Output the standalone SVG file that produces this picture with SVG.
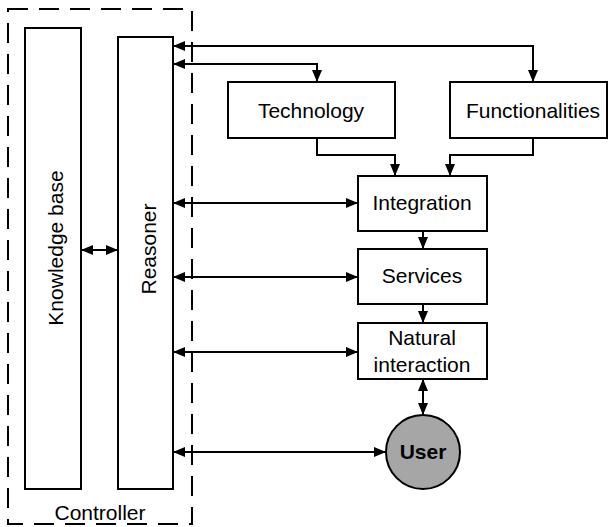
<svg xmlns="http://www.w3.org/2000/svg" width="609" height="527" viewBox="0 0 609 527">
<style>
.box{fill:#fff;stroke:#000;stroke-width:2}
.ln{fill:none;stroke:#000;stroke-width:2}
.t{font-family:"Liberation Sans",Arial,sans-serif;font-size:21px;fill:#000;text-anchor:middle}
</style>
<defs>
<marker id="ah" markerUnits="userSpaceOnUse" markerWidth="12" markerHeight="10" refX="12" refY="5" orient="auto-start-reverse">
<path d="M0,0 L12,5 L0,10 z" fill="#000"/>
</marker>
</defs>
<rect x="8" y="9" width="184" height="515" fill="none" stroke="#000" stroke-width="2" stroke-dasharray="20 11"/>
<text class="t" x="100" y="520">Controller</text>
<g id="knowledge-base">
<rect class="box" x="25" y="28" width="56" height="461"/>
<text class="t" transform="translate(63,248) rotate(-90)">Knowledge base</text>
</g>
<g id="reasoner">
<rect class="box" x="118" y="37" width="55" height="452"/>
<text class="t" transform="translate(156,249) rotate(-90)">Reasoner</text>
</g>
<g id="technology">
<rect class="box" x="228" y="82" width="167" height="56"/>
<text class="t" x="311" y="118">Technology</text>
</g>
<g id="functionalities">
<rect class="box" x="450" y="82" width="157" height="56"/>
<text class="t" x="533" y="118">Functionalities</text>
</g>
<g id="integration">
<rect class="box" x="358" y="176" width="129" height="55"/>
<text class="t" x="422" y="210">Integration</text>
</g>
<g id="services">
<rect class="box" x="358" y="249" width="129" height="55"/>
<text class="t" x="422" y="283">Services</text>
</g>
<g id="natural-interaction">
<rect class="box" x="358" y="323" width="129" height="56"/>
<text class="t" x="422" y="345">Natural</text>
<text class="t" x="422" y="372">interaction</text>
</g>
<g id="user">
<circle cx="423" cy="452" r="37" fill="#a6a6a6" stroke="#000" stroke-width="2"/>
<text class="t" x="423" y="459" font-weight="bold">User</text>
</g>
<g id="connectors">
<path class="ln" d="M173,46 H533 V82" marker-start="url(#ah)" marker-end="url(#ah)"/>
<path class="ln" d="M173,64 H317 V82" marker-start="url(#ah)" marker-end="url(#ah)"/>
<path class="ln" d="M317,138 V155 H395 V176" marker-end="url(#ah)"/>
<path class="ln" d="M533,138 V155 H450 V176" marker-end="url(#ah)"/>
<path class="ln" d="M423,231 V249" marker-end="url(#ah)"/>
<path class="ln" d="M423,304 V323" marker-end="url(#ah)"/>
<path class="ln" d="M423,379 V415" marker-start="url(#ah)" marker-end="url(#ah)"/>
<path class="ln" d="M173,203 H358" marker-start="url(#ah)" marker-end="url(#ah)"/>
<path class="ln" d="M173,277 H358" marker-start="url(#ah)" marker-end="url(#ah)"/>
<path class="ln" d="M173,352 H358" marker-start="url(#ah)" marker-end="url(#ah)"/>
<path class="ln" d="M173,452 H386" marker-start="url(#ah)" marker-end="url(#ah)"/>
<path class="ln" d="M81,250 H118" marker-start="url(#ah)" marker-end="url(#ah)"/>
</g>
</svg>
